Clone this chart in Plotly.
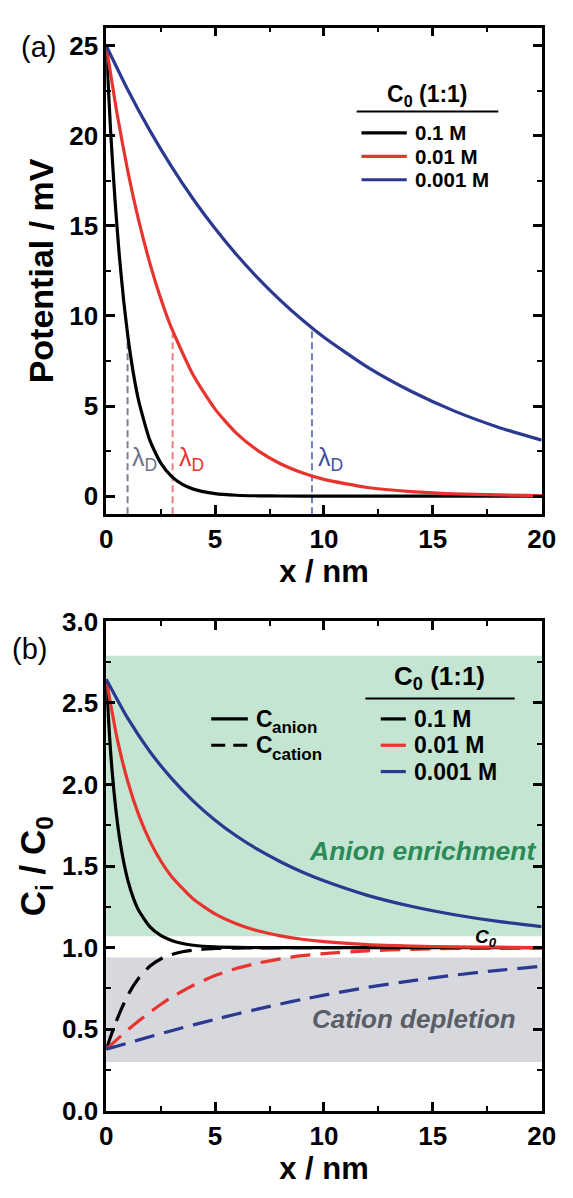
import plotly.graph_objects as go

# ---------------- data ----------------
# Panel (a): potential (mV) vs x (nm)
x_01 = [0, 0.2, 0.4, 0.6, 0.8, 1, 1.25, 1.5, 2, 2.5, 3, 3.5, 4, 5, 6, 7, 8, 10, 20]
pot_01 = [25, 20.30, 16.48, 13.38, 10.87, 8.82, 6.80, 5.24, 3.11, 1.85, 1.10, 0.65, 0.39, 0.14, 0.05, 0.02, 0.01, 0, 0]
x_001 = [0, 0.5, 1, 1.5, 2, 2.5, 3, 4, 5, 6, 7, 8, 9, 10, 12, 14, 16, 18, 20]
pot_001 = [25, 21.21, 17.99, 15.26, 12.95, 10.98, 9.32, 6.71, 4.83, 3.47, 2.50, 1.80, 1.30, 0.93, 0.48, 0.25, 0.13, 0.07, 0.03]
x_0001 = [0, 1, 2, 3, 4, 5, 6, 7, 8, 9, 10, 12, 14, 16, 18, 20]
pot_0001 = [25, 22.53, 20.30, 18.29, 16.48, 14.85, 13.38, 12.06, 10.87, 9.79, 8.82, 7.16, 5.82, 4.72, 3.83, 3.11]

# Debye lengths (nm) and height of marker lines (mV)
lambda_d = [0.98, 3.05, 9.45]
lambda_top = [8.8, 9.0, 9.2]

# Panel (b): Ci/C0
anion_01 = [2.646, 2.203, 1.899, 1.683, 1.527, 1.410, 1.303, 1.226, 1.129, 1.075, 1.044, 1.026, 1.015, 1.005, 1.002, 1.001, 1.0, 1.0, 1.0]
cation_01 = [0.378, 0.454, 0.527, 0.594, 0.655, 0.709, 0.767, 0.815, 0.886, 0.931, 0.958, 0.975, 0.985, 0.995, 0.998, 0.999, 1.0, 1.0, 1.0]
anion_001 = [2.646, 2.283, 2.014, 1.811, 1.655, 1.533, 1.437, 1.298, 1.207, 1.145, 1.102, 1.073, 1.052, 1.037, 1.019, 1.010, 1.005, 1.003, 1.001]
cation_001 = [0.378, 0.438, 0.497, 0.552, 0.604, 0.652, 0.696, 0.770, 0.829, 0.874, 0.907, 0.932, 0.951, 0.964, 0.981, 0.990, 0.995, 0.997, 0.999]
anion_0001 = [2.646, 2.404, 2.203, 2.038, 1.899, 1.782, 1.683, 1.599, 1.527, 1.464, 1.410, 1.321, 1.254, 1.202, 1.161, 1.129]
cation_0001 = [0.378, 0.416, 0.454, 0.491, 0.527, 0.561, 0.594, 0.625, 0.655, 0.683, 0.709, 0.757, 0.797, 0.832, 0.861, 0.886]

# shaded regions (Ci/C0)
enrich_band = [1.07, 2.79]
deplete_band = [0.30, 0.94]

conc_labels = ["0.1 M", "0.01 M", "0.001 M"]
ion_subs = ["anion", "cation"]
colors = ["#000000", "#e8342e", "#2b3990"]
lambda_colors = ["#7a7f96", "#f07c7c", "#6f7fc0"]
lambda_text_colors = ["#6e7286", "#e8342e", "#3f4fa0"]

W, H = 573, 1198
FONT = "Liberation Sans, Arial, sans-serif"


def px(x):
    return x / W


def py(y):
    return 1 - y / H


fig = go.Figure()

xs = [x_01, x_001, x_0001]
pots = [pot_01, pot_001, pot_0001]
anions = [anion_01, anion_001, anion_0001]
cations = [cation_01, cation_001, cation_0001]

# Debye length markers (panel a)
for i in range(3):
    fig.add_trace(go.Scatter(x=[lambda_d[i], lambda_d[i]], y=[-1, lambda_top[i]], mode="lines",
                             line=dict(color=lambda_colors[i], width=2, dash="7px,4px"),
                             xaxis="x", yaxis="y", showlegend=False, hoverinfo="skip"))

for i in range(3):
    fig.add_trace(go.Scatter(x=xs[i], y=pots[i], mode="lines", name=conc_labels[i],
                             line=dict(color=colors[i], width=3.2, shape="spline", smoothing=0.6),
                             xaxis="x", yaxis="y", showlegend=False))

for i in range(3):
    fig.add_trace(go.Scatter(x=xs[i], y=cations[i], mode="lines",
                             line=dict(color=colors[i], width=3.2, dash="20px,10px", shape="spline", smoothing=0.6),
                             xaxis="x2", yaxis="y2", showlegend=False))
for i in range(3):
    fig.add_trace(go.Scatter(x=xs[i], y=anions[i], mode="lines",
                             line=dict(color=colors[i], width=3.2, shape="spline", smoothing=0.6),
                             xaxis="x2", yaxis="y2", showlegend=False))

# shaded regions
fig.add_shape(type="rect", xref="x2 domain", yref="y2", x0=0, x1=1, y0=enrich_band[0], y1=enrich_band[1],
              fillcolor="#c3e5d2", line=dict(width=0), layer="below")
fig.add_shape(type="rect", xref="x2 domain", yref="y2", x0=0, x1=1, y0=deplete_band[0], y1=deplete_band[1],
              fillcolor="#d6d8dd", line=dict(width=0), layer="below")

axis_common = dict(showline=True, linewidth=2.5, linecolor="black", mirror="ticks", ticks="inside",
                   ticklen=9, tickwidth=2.5, tickcolor="black", showgrid=False, zeroline=False,
                   tickfont=dict(family=FONT, size=26, color="black", weight="bold"))

xdom = [px(103), px(555)]
fig.update_layout(
    width=W, height=H, margin=dict(l=0, r=0, t=0, b=0),
    paper_bgcolor="white", plot_bgcolor="white", showlegend=False,
    xaxis=dict(domain=xdom, range=[0, 20], dtick=5, tick0=0, anchor="y",
               minor=dict(ticks="inside", ticklen=5, tickwidth=2, dtick=2.5, tick0=0, tickcolor="black"),
               title=dict(text="<b>x / nm</b>", font=dict(family=FONT, size=31, color="black"), standoff=2),
               **axis_common),
    yaxis=dict(domain=[py(512), py(13)], range=[-1, 26], dtick=5, tick0=0, anchor="x",
               minor=dict(ticks="inside", ticklen=5, tickwidth=2, dtick=2.5, tick0=0, tickcolor="black"),
               title=dict(text="<b>Potential / mV</b>", font=dict(family=FONT, size=34, color="black"), standoff=6),
               **axis_common),
    xaxis2=dict(domain=xdom, range=[0, 20], dtick=5, tick0=0, anchor="y2",
                minor=dict(ticks="inside", ticklen=5, tickwidth=2, dtick=2.5, tick0=0, tickcolor="black"),
                title=dict(text="<b>x / nm</b>", font=dict(family=FONT, size=31, color="black"), standoff=2),
                **axis_common),
    yaxis2=dict(domain=[py(1124), py(622)], range=[0, 3], dtick=0.5, tick0=0, tickformat=".1f", anchor="x2",
                minor=dict(ticks="inside", ticklen=5, tickwidth=2, dtick=0.25, tick0=0, tickcolor="black"),
                title=dict(text="<b>C<sub>i</sub> / C<sub>0</sub></b>", font=dict(family=FONT, size=35, color="black"), standoff=6),
                **axis_common),
)

ann = []
# panel labels
ann.append(dict(x=px(33), y=py(33), text="(a)", font=dict(family=FONT, size=29, color="black")))
ann.append(dict(x=px(23), y=py(650), text="(b)", font=dict(family=FONT, size=29, color="black")))

# lambda_D labels
lam_px = [143, 191, 336]
for i in range(3):
    ann.append(dict(x=px(lam_px[i]), y=py(455), text="λ<sub>D</sub>",
                    font=dict(family=FONT, size=25, color=lambda_text_colors[i])))

# legend (a)
ann.append(dict(x=px(437), y=py(83), text="<b>C<sub>0</sub> (1:1)</b>", font=dict(family=FONT, size=23, color="black")))
shapes = []
shapes.append(dict(type="line", xref="paper", yref="paper", x0=px(363), x1=px(510), y0=py(99), y1=py(99),
                   line=dict(color="black", width=2)))
rows_a = [121, 145, 169]
for i in range(3):
    shapes.append(dict(type="line", xref="paper", yref="paper", x0=px(368), x1=px(415), y0=py(rows_a[i]), y1=py(rows_a[i]),
                       line=dict(color=colors[i], width=3.2)))
    ann.append(dict(x=px(421), y=py(rows_a[i]), text="<b>" + conc_labels[i] + "</b>", xanchor="left",
                    font=dict(family=FONT, size=20.5, color="black")))

# legend (b) - concentrations
ann.append(dict(x=px(449), y=py(680), text="<b>C<sub>0</sub> (1:1)</b>",
                font=dict(family=FONT, size=26, color="black")))
shapes.append(dict(type="line", xref="paper", yref="paper", x0=px(372), x1=px(527), y0=py(701), y1=py(701),
                   line=dict(color="black", width=2)))
rows_b = [722, 749, 776]
for i in range(3):
    shapes.append(dict(type="line", xref="paper", yref="paper", x0=px(388), x1=px(414), y0=py(rows_b[i]), y1=py(rows_b[i]),
                       line=dict(color=colors[i], width=3.2)))
    ann.append(dict(x=px(420), y=py(rows_b[i]), text="<b>" + conc_labels[i] + "</b>", xanchor="left",
                    font=dict(family=FONT, size=23, color="black")))

# legend (b) - ions (C and subscript drawn separately)
rows_ion = [722, 749]
shapes.append(dict(type="line", xref="paper", yref="paper", x0=px(212), x1=px(250), y0=py(722), y1=py(722),
                   line=dict(color="black", width=3.2)))
shapes.append(dict(type="line", xref="paper", yref="paper", x0=px(212), x1=px(252), y0=py(749), y1=py(749),
                   line=dict(color="black", width=3.2, dash="14px,8px")))
for j in range(2):
    ann.append(dict(x=px(256), y=py(rows_ion[j]), text="<b>C</b>", xanchor="left",
                    font=dict(family=FONT, size=23, color="black")))
    ann.append(dict(x=px(273), y=py(rows_ion[j] + 9), text="<b>" + ion_subs[j] + "</b>", xanchor="left",
                    font=dict(family=FONT, size=17, color="black")))

# region labels
ann.append(dict(x=px(431), y=py(857), text="<b><i>Anion enrichment</i></b>",
                font=dict(family=FONT, size=26.5, color="#2a8a58")))
ann.append(dict(x=px(422), y=py(1030), text="<b><i>Cation depletion</i></b>",
                font=dict(family=FONT, size=26, color="#5a5e66")))
ann.append(dict(x=px(497), y=py(947), text="<b><i>C<sub>0</sub></i></b>",
                font=dict(family=FONT, size=19, color="black")))

for a in ann:
    a.setdefault("xref", "paper")
    a.setdefault("yref", "paper")
    a.setdefault("showarrow", False)
    a.setdefault("xanchor", "center")
    a.setdefault("yanchor", "middle")
fig.update_layout(annotations=ann, shapes=fig.layout.shapes + tuple(shapes))

fig.write_html("out.html", config={"displayModeBar": False},
               post_script="document.body.style.margin='0';document.body.style.overflow='hidden';")
